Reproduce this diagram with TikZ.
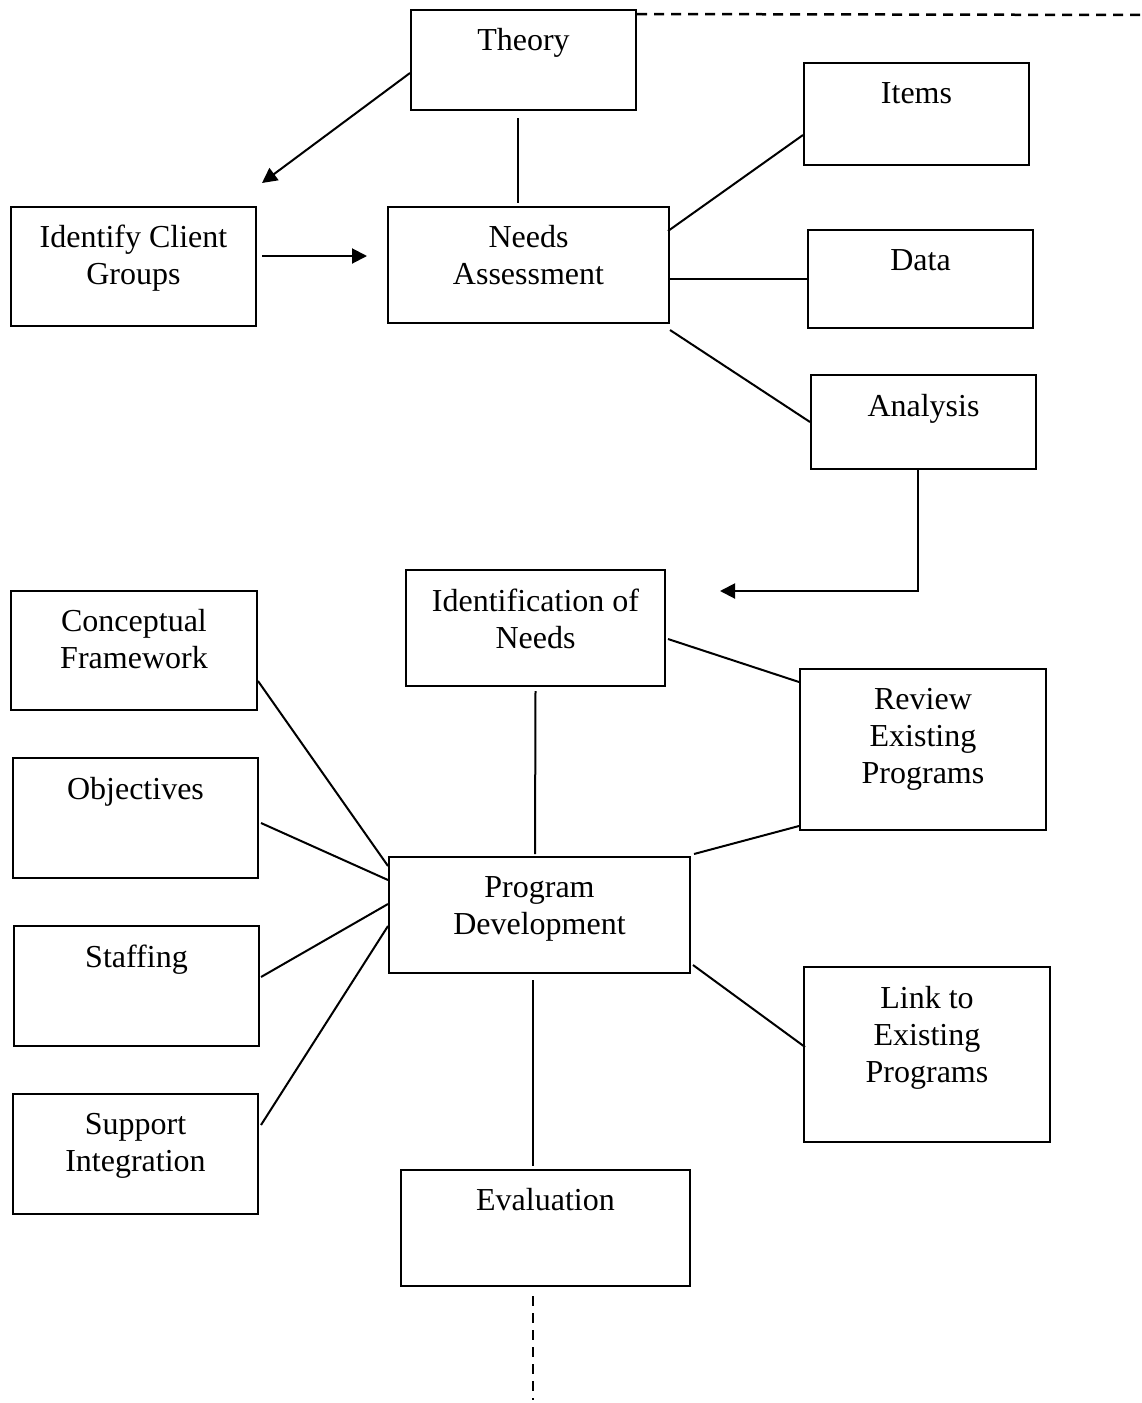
\documentclass[tikz,border=0pt]{standalone}
\usepackage{fontspec}
\setmainfont{Liberation Serif}
\usetikzlibrary{arrows.meta,positioning}

\begin{document}
\begin{tikzpicture}[x=1pt,y=-1pt,
    box/.style={draw,line width=2pt,inner sep=0pt},
    lbl/.style={align=center,inner sep=0pt,font=\fontsize{32}{37}\selectfont},
    link/.style={line width=2pt},
    arr/.style={line width=2pt,-{Triangle[length=15pt,width=15pt]}},
    dashline/.style={line width=2.5pt,dash pattern=on 10pt off 7pt}]
    \useasboundingbox (0,0) rectangle (1142,1403);

    \node[box,minimum width=225pt,minimum height=100pt] (theory) at (523.5,60) {};
    \node[box,minimum width=225pt,minimum height=102pt] (items) at (916.5,114) {};
    \node[box,minimum width=245pt,minimum height=119pt] (client) at (133.5,266.5) {};
    \node[box,minimum width=281pt,minimum height=116pt] (needs) at (528.5,265) {};
    \node[box,minimum width=225pt,minimum height=98pt] (data) at (920.5,279) {};
    \node[box,minimum width=225pt,minimum height=94pt] (analysis) at (923.5,422) {};
    \node[box,minimum width=259pt,minimum height=116pt] (ident) at (535.5,628) {};
    \node[box,minimum width=246pt,minimum height=119pt] (concept) at (134,650.5) {};
    \node[box,minimum width=246pt,minimum height=161pt] (review) at (923,749.5) {};
    \node[box,minimum width=245pt,minimum height=120pt] (objectives) at (135.5,818) {};
    \node[box,minimum width=301pt,minimum height=116pt] (program) at (539.5,915) {};
    \node[box,minimum width=245pt,minimum height=120pt] (staffing) at (136.5,986) {};
    \node[box,minimum width=246pt,minimum height=175pt] (linkto) at (927,1054.5) {};
    \node[box,minimum width=245pt,minimum height=120pt] (support) at (135.5,1154) {};
    \node[box,minimum width=289pt,minimum height=116pt] (evaluation) at (545.5,1228) {};

    \node[lbl,below=19pt of theory.north] (theorytxt) {Theory};
    \node[lbl,below=20pt of items.north] (itemstxt) {Items};
    \node[lbl,below=19pt of client.north] (clienttxt) {Identify Client\\Groups};
    \node[lbl,below=19pt of needs.north] (needstxt) {Needs\\Assessment};
    \node[lbl,below=20pt of data.north] (datatxt) {Data};
    \node[lbl,below=20pt of analysis.north] (analysistxt) {Analysis};
    \node[lbl,below=20pt of ident.north] (identtxt) {Identification of\\Needs};
    \node[lbl,below=19pt of concept.north] (concepttxt) {Conceptual\\Framework};
    \node[lbl,below=20pt of review.north] (reviewtxt) {Review\\Existing\\Programs};
    \node[lbl,below=20pt of objectives.north] (objectivestxt) {Objectives};
    \node[lbl,below=20pt of program.north] (programtxt) {Program\\Development};
    \node[lbl,below=20pt of staffing.north] (staffingtxt) {Staffing};
    \node[lbl,below=20pt of linkto.north] (linktotxt) {Link to\\Existing\\Programs};
    \node[lbl,below=20pt of support.north] (supporttxt) {Support\\Integration};
    \node[lbl,below=19pt of evaluation.north] (evaluationtxt) {Evaluation};

    \coordinate (toclient) at (262,183);
    \coordinate (toident) at (720,591);
    \coordinate (evalend) at (533,1400);
    \coordinate (theoryend) at (1142,15);

    \draw[arr] ([yshift=-13pt]theory.west) -- (toclient);
    \draw[link] ([xshift=-5.5pt,yshift=-7pt]theory.south) -- ([xshift=-10.5pt,yshift=3pt]needs.north);
    \draw[arr] ([xshift=5pt,yshift=10.5pt]client.east) -- ([xshift=-20pt,yshift=9pt]needs.west);
    \draw[link] ([xshift=-2pt,yshift=34pt]needs.east) -- ([yshift=-21pt]items.west);
    \draw[link] ([xshift=-2pt,yshift=-14pt]needs.east) -- (data.west);
    \draw[link] ([yshift=-6pt]needs.south east) -- (analysis.west);
    \draw[arr] ([xshift=-5.5pt]analysis.south) |- (toident);
    \draw[link] ([xshift=2pt,yshift=-11pt]ident.east) -- ([yshift=-14pt]review.north west);
    \draw[link] ([yshift=-4pt]ident.south) -- ([xshift=-4.5pt,yshift=2pt]program.north);
    \draw[link] ([yshift=5pt]review.south west) -- ([xshift=3pt,yshift=2pt]program.north east);
    \draw[link] ([yshift=-30.5pt]concept.east) -- ([yshift=49pt]program.west);
    \draw[link] ([xshift=2pt,yshift=-5pt]objectives.east) -- ([yshift=35pt]program.west);
    \draw[link] ([xshift=1pt,yshift=9pt]staffing.east) -- ([yshift=11pt]program.west);
    \draw[link] ([xshift=2pt,yshift=29pt]support.east) -- ([yshift=-11pt]program.west);
    \draw[link] ([xshift=2pt,yshift=-50pt]program.east) -- ([xshift=2pt,yshift=7.5pt]linkto.west);
    \draw[link] ([xshift=-6.5pt,yshift=-6pt]program.south) -- ([xshift=-12.5pt,yshift=3pt]evaluation.north);
    \draw[dashline] ([xshift=-12.5pt,yshift=-9pt]evaluation.south) -- (evalend);
    \draw[dashline] ([yshift=-5pt]theory.north east) -- (theoryend);
\end{tikzpicture}
\end{document}
